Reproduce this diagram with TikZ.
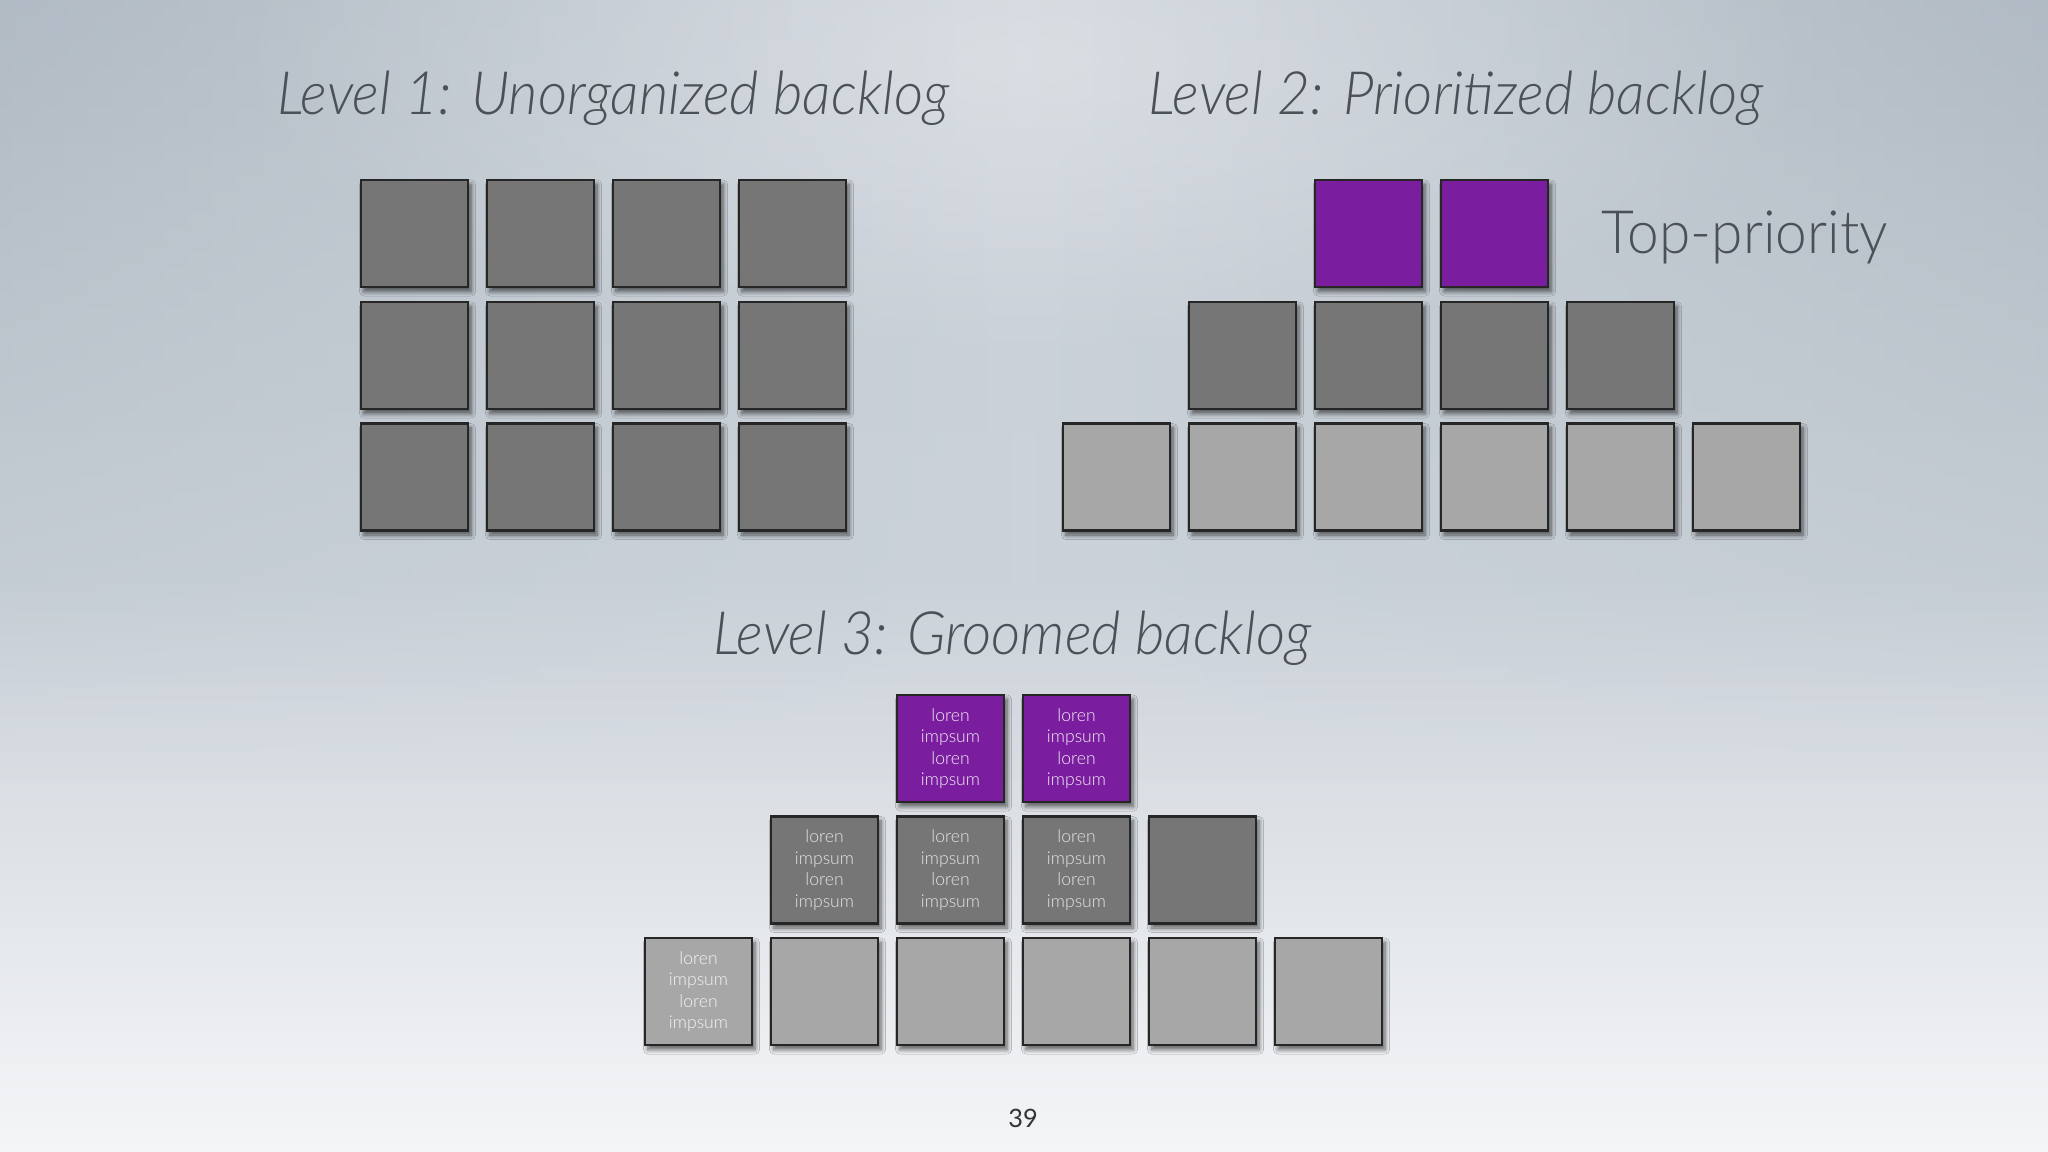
\documentclass[tikz,border=0pt]{standalone}
\usepackage{fontspec}
\setmainfont{Lato}
\newfontfamily\titlefont{Lato Light}[FakeStretch=0.95]
\newfontfamily\cellfont{Lato Light}
\usetikzlibrary{shadows.blur,fadings}
\tikzfading[name=softglow, inner color=transparent!0, outer color=transparent!100]
\definecolor{bgtop}{HTML}{C9D0D7}
\definecolor{bgmid}{HTML}{CBD2D9}
\definecolor{bgbot}{HTML}{F4F5F7}
\definecolor{bgside}{HTML}{A2ADB8}
\definecolor{darkgrey}{HTML}{777677}
\definecolor{lightgrey}{HTML}{A8A7A8}
\definecolor{purp}{HTML}{7A1E9F}
\definecolor{titlecol}{HTML}{4C5157}
\tikzset{
  sq/.style={draw=black!85, line width=0.6pt, minimum size=1.07cm, inner sep=0pt,
    blur shadow={shadow xshift=0.03cm, shadow yshift=-0.045cm, shadow blur radius=0.045cm, shadow blur steps=6, shadow opacity=60}},
  dk/.style={sq, fill=darkgrey},
  lt/.style={sq, fill=lightgrey},
  pp/.style={sq, fill=purp},
  celltext/.style={font=\cellfont\fontsize{5}{6.1}\selectfont, align=center, text=white!90!black},
  ttl/.style={font=\titlefont\itshape\fontsize{17}{20}\selectfont, text=titlecol, inner sep=0pt, anchor=base},
}
\begin{document}
\begin{tikzpicture}[x=0.01cm, y=-0.01cm]
% background
\shade[top color=bgtop, bottom color=bgbot, middle color=bgmid, shading angle=0] (0,0) rectangle (2048,1152);
\useasboundingbox (0,0) rectangle (2048,1152);
\shade[left color=bgside, right color=bgside, middle color=bgmid, opacity=0.6, path fading=south] (0,0) rectangle (2048,780);
\fill[white, opacity=0.3, path fading=softglow] (1024,60) ellipse (800 and 300);

% titles
\node[ttl] (t1) at (613,115) {Level 1: Unorganized backlog};
\node[ttl] (t2) at (1456,115) {Level 2: Prioritized backlog};
\node[ttl] (t3) at (1012,654) {Level 3: Groomed backlog};
\node[font=\titlefont\fontsize{17}{20}\selectfont, text=titlecol, inner sep=0pt, anchor=base] (tp) at (1745,254) {Top-priority};

% Level 1
\foreach \r/\y in {1/233.5,2/355.5,3/477}{
  \foreach \c/\x in {1/414.5,2/540.5,3/666.5,4/792.5}{
    \node[dk] (a\r\c) at (\x,\y) {};
  }
}

% Level 2
\node[pp] (b11) at (1368.5,233.5) {};
\node[pp] (b12) at (1494.5,233.5) {};
\foreach \c/\x in {1/1242.5,2/1368.5,3/1494.5,4/1620.5}{
  \node[dk] (b2\c) at (\x,355.5) {};
}
\foreach \c/\x in {1/1116.5,2/1242.5,3/1368.5,4/1494.5,5/1620.5,6/1746.5}{
  \node[lt] (b3\c) at (\x,477) {};
}

% Level 3
\node[pp] (c11) at (950.5,748.5) {};
\node[celltext, text=white!92!purp] (l11) at (c11) {loren\\impsum\\loren\\impsum};
\node[pp] (c12) at (1076.5,748.5) {};
\node[celltext, text=white!92!purp] (l12) at (c12) {loren\\impsum\\loren\\impsum};
\foreach \c/\x in {1/824.5,2/950.5,3/1076.5}{
  \node[dk] (c2\c) at (\x,870) {};
  \node[celltext] (l2\c) at (c2\c) {loren\\impsum\\loren\\impsum};
}
\node[dk] (c24) at (1202.5,870) {};
\node[lt] (c31) at (698.5,991.5) {};
\node[celltext, text=white!96!black] (l31) at (c31) {loren\\impsum\\loren\\impsum};
\foreach \c/\x in {2/824.5,3/950.5,4/1076.5,5/1202.5,6/1328.5}{
  \node[lt] (c3\c) at (\x,991.5) {};
}

% page number
\node[font=\fontsize{7.2}{9}\selectfont, text=black!80] (pg) at (1023,1118) {39};
\end{tikzpicture}
\end{document}
